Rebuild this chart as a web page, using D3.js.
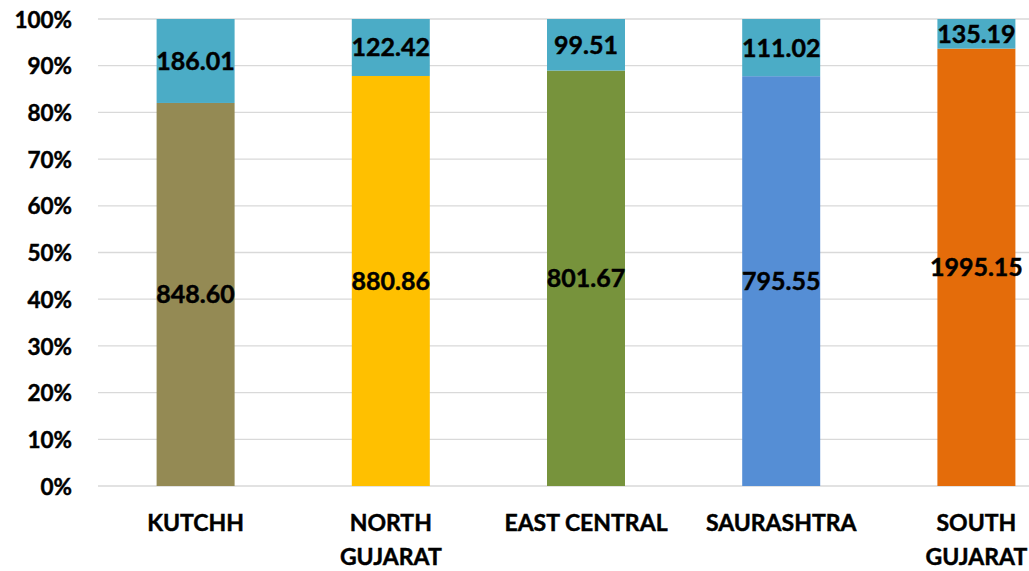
<!DOCTYPE html>
<html>
<head>
<meta charset="utf-8">
<script src="https://cdn.jsdelivr.net/npm/d3@7"></script>
<style>
  body { margin: 0; background: #fff; }
  text { font-family: Lato, "Open Sans", sans-serif; font-weight: bold; fill: #000; stroke: #000; stroke-width: 0.45px; }
</style>
</head>
<body>
<div id="wrapper"></div>
<script>
// data
const regions = ["KUTCHH", "NORTH GUJARAT", "EAST CENTRAL", "SAURASHTRA", "SOUTH GUJARAT"];
const regionLines = [["KUTCHH"], ["NORTH", "GUJARAT"], ["EAST CENTRAL"], ["SAURASHTRA"], ["SOUTH", "GUJARAT"]];
const lowerValues = [848.60, 880.86, 801.67, 795.55, 1995.15];
const upperValues = [186.01, 122.42, 99.51, 111.02, 135.19];
const lowerColors = ["#948A54", "#FFC000", "#77933C", "#558ED5", "#E46C0A"];
const upperColor = "#4BACC6";
const yTicks = [0, 0.1, 0.2, 0.3, 0.4, 0.5, 0.6, 0.7, 0.8, 0.9, 1];

function drawChart() {
  //1. dimensions
  let dimensions = {
    width: 1029,
    height: 571,
    margin: { top: 19, right: -45, bottom: 85, left: 98 },
  };
  dimensions.boundedWidth = dimensions.width - dimensions.margin.left - dimensions.margin.right;
  dimensions.boundedHeight = dimensions.height - dimensions.margin.top - dimensions.margin.bottom;

  //2. canvas
  const wrapper = d3.select("#wrapper")
    .append("svg")
    .attr("width", dimensions.width)
    .attr("height", dimensions.height);

  const bounds = wrapper.append("g")
    .attr("transform", `translate(${dimensions.margin.left},${dimensions.margin.top})`);

  //3. scales
  const xScale = d3.scaleBand()
    .domain(regions)
    .range([0, dimensions.boundedWidth])
    .paddingInner(0.6)
    .paddingOuter(0.3);

  const yScale = d3.scaleLinear()
    .domain([0, 1])
    .range([dimensions.boundedHeight, 0]);

  //4. gridlines
  bounds.append("g")
    .selectAll("line")
    .data(yTicks)
    .enter()
    .append("line")
    .attr("x1", 0)
    .attr("x2", dimensions.width)
    .attr("y1", (d) => yScale(d))
    .attr("y2", (d) => yScale(d))
    .attr("stroke", "#D9D9D9")
    .attr("stroke-width", 1.3);

  //5. stacked 100% bars
  const rows = regions.map((r, i) => {
    const total = lowerValues[i] + upperValues[i];
    return { region: r, i: i, lower: lowerValues[i], upper: upperValues[i], share: lowerValues[i] / total };
  });

  const barW = 78;
  const cx = (d) => xScale(d.region) + xScale.bandwidth() / 2;

  bounds.selectAll("rect.lower")
    .data(rows)
    .enter()
    .append("rect")
    .attr("class", "lower")
    .attr("x", (d) => cx(d) - barW / 2)
    .attr("y", (d) => yScale(d.share))
    .attr("width", barW)
    .attr("height", (d) => yScale(0) - yScale(d.share))
    .attr("fill", (d) => lowerColors[d.i]);

  bounds.selectAll("rect.upper")
    .data(rows)
    .enter()
    .append("rect")
    .attr("class", "upper")
    .attr("x", (d) => cx(d) - barW / 2)
    .attr("y", yScale(1))
    .attr("width", barW)
    .attr("height", (d) => yScale(d.share) - yScale(1))
    .attr("fill", upperColor);

  //6. value labels
  bounds.selectAll("text.lowerLabel")
    .data(rows)
    .enter()
    .append("text")
    .attr("x", cx)
    .attr("y", (d) => (yScale(0) + yScale(d.share)) / 2)
    .attr("dy", "0.36em")
    .attr("text-anchor", "middle")
    .style("font-size", "25px")
    .text((d) => d.lower.toFixed(2));

  bounds.selectAll("text.upperLabel")
    .data(rows)
    .enter()
    .append("text")
    .attr("x", cx)
    .attr("y", (d) => (yScale(1) + yScale(d.share)) / 2)
    .attr("dy", "0.36em")
    .attr("text-anchor", "middle")
    .style("font-size", "25px")
    .text((d) => d.upper.toFixed(2));

  //7. y axis labels
  const yAxis = bounds.append("g")
    .call(d3.axisLeft(yScale).tickValues(yTicks).tickFormat(d3.format(".0%")).tickSize(0).tickPadding(26));
  yAxis.select(".domain").remove();
  yAxis.selectAll("text")
    .style("font-size", "22.5px")
    .style("font-family", "Lato, sans-serif")
    .attr("dy", "0.36em");

  //8. x axis labels (wrapped)
  const xLabels = bounds.append("g")
    .attr("transform", `translate(0,${dimensions.boundedHeight})`);
  xLabels.selectAll("text")
    .data(rows)
    .enter()
    .append("text")
    .attr("x", cx)
    .attr("y", 45)
    .attr("text-anchor", "middle")
    .style("font-size", "23px")
    .each(function (d) {
      d3.select(this).selectAll("tspan")
        .data(regionLines[d.i])
        .enter()
        .append("tspan")
        .attr("x", cx(d))
        .attr("dy", (t, k) => (k === 0 ? 0 : 34))
        .text((t) => t);
    });
}
drawChart();
</script>
</body>
</html>
